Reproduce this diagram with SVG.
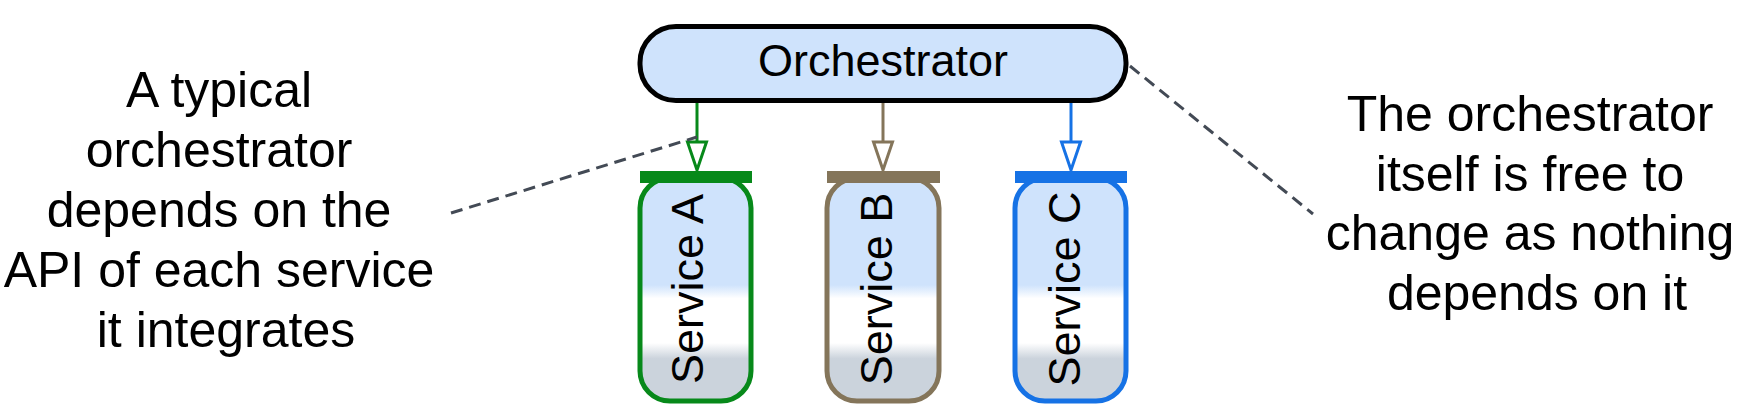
<svg xmlns="http://www.w3.org/2000/svg" width="1763" height="420" viewBox="0 0 1763 420">
  <style>
    .lbl { font-family: "Liberation Sans", Arial, sans-serif; fill: #000; }
    .node-title { font-size: 45px; text-anchor: middle; }
    .note { font-size: 50px; text-anchor: middle; }
    .svc { fill: url(#svcGrad); stroke-width: 5; }
    .dash { fill: none; stroke: #434a55; stroke-width: 3; stroke-dasharray: 12 7; }
    .conn { fill: none; stroke-width: 3; }
  </style>
  <defs>
    <linearGradient id="svcGrad" x1="0" y1="0" x2="0" y2="1">
      <stop offset="0" stop-color="#cfe3fc"/>
      <stop offset="0.48" stop-color="#cfe3fc"/>
      <stop offset="0.54" stop-color="#ffffff"/>
      <stop offset="0.74" stop-color="#ffffff"/>
      <stop offset="0.81" stop-color="#cbd3dc"/>
      <stop offset="1" stop-color="#cbd3dc"/>
    </linearGradient>
    <marker id="arrGreen" markerUnits="userSpaceOnUse" markerWidth="40" markerHeight="30" refX="0" refY="0" orient="auto" overflow="visible">
      <polygon points="0,-9.5 28,0 0,9.5" fill="#ffffff" stroke="#07891a" stroke-width="3" stroke-linejoin="miter"/>
    </marker>
    <marker id="arrBrown" markerUnits="userSpaceOnUse" markerWidth="40" markerHeight="30" refX="0" refY="0" orient="auto" overflow="visible">
      <polygon points="0,-9.5 28,0 0,9.5" fill="#ffffff" stroke="#84755a" stroke-width="3" stroke-linejoin="miter"/>
    </marker>
    <marker id="arrBlue" markerUnits="userSpaceOnUse" markerWidth="40" markerHeight="30" refX="0" refY="0" orient="auto" overflow="visible">
      <polygon points="0,-9.5 28,0 0,9.5" fill="#ffffff" stroke="#1672e5" stroke-width="3" stroke-linejoin="miter"/>
    </marker>
  </defs>
  <rect width="1763" height="420" fill="#ffffff"/>

  <g id="connectors">
    <line class="conn" x1="697" y1="102" x2="697" y2="142" stroke="#07891a" marker-end="url(#arrGreen)"/>
    <line class="conn" x1="883" y1="102" x2="883" y2="142" stroke="#84755a" marker-end="url(#arrBrown)"/>
    <line class="conn" x1="1071" y1="102" x2="1071" y2="142" stroke="#1672e5" marker-end="url(#arrBlue)"/>
    <line class="dash" x1="451" y1="213" x2="697" y2="137"/>
    <line class="dash" x1="1130" y1="66" x2="1313" y2="214"/>
  </g>

  <g id="orchestrator">
    <rect x="640" y="26.5" width="486" height="74" rx="36" ry="36" fill="#cfe3fc" stroke="#000" stroke-width="5"/>
    <text class="lbl node-title" x="883" y="76">Orchestrator</text>
  </g>

  <g id="service-a">
    <rect class="svc" x="640" y="178" width="111" height="223" rx="30" ry="30" stroke="#07891a"/>
    <rect x="640" y="171" width="112" height="12" fill="#07891a"/>
    <text class="lbl node-title" transform="translate(703,289) rotate(-90)">Service A</text>
  </g>

  <g id="service-b">
    <rect class="svc" x="827" y="178" width="112" height="223" rx="30" ry="30" stroke="#84755a"/>
    <rect x="827" y="171" width="113" height="12" fill="#84755a"/>
    <text class="lbl node-title" transform="translate(892,289) rotate(-90)">Service B</text>
  </g>

  <g id="service-c">
    <rect class="svc" x="1015" y="178" width="111" height="223" rx="30" ry="30" stroke="#1672e5"/>
    <rect x="1015" y="171" width="112" height="12" fill="#1672e5"/>
    <text class="lbl node-title" transform="translate(1080,289) rotate(-90)">Service C</text>
  </g>

  <g id="note-left">
    <text class="lbl note">
      <tspan x="226" y="107">A typical</tspan>
      <tspan x="226" y="167">orchestrator</tspan>
      <tspan x="226" y="227">depends on the</tspan>
      <tspan x="226" y="287">API of each service</tspan>
      <tspan x="226" y="347">it integrates</tspan>
    </text>
  </g>

  <g id="note-right">
    <text class="lbl note">
      <tspan x="1537" y="131">The orchestrator</tspan>
      <tspan x="1537" y="191">itself is free to</tspan>
      <tspan x="1537" y="250">change as nothing</tspan>
      <tspan x="1537" y="310">depends on it</tspan>
    </text>
  </g>
</svg>
